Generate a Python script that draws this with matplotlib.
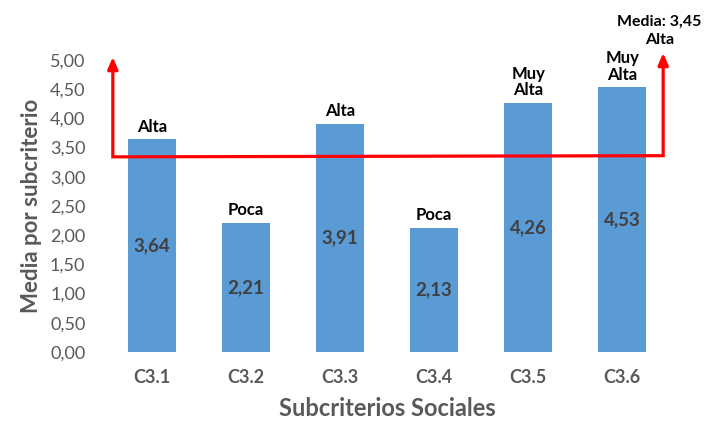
import matplotlib
matplotlib.use("Agg")
import matplotlib.pyplot as plt

# data
categories = ["C3.1", "C3.2", "C3.3", "C3.4", "C3.5", "C3.6"]
values = [3.64, 2.21, 3.91, 2.13, 4.26, 4.53]
levels = ["Alta", "Poca", "Alta", "Poca", "Muy\nAlta", "Muy\nAlta"]
value_labels = ["3,64", "2,21", "3,91", "2,13", "4,26", "4,53"]
yticks = [0, 0.5, 1, 1.5, 2, 2.5, 3, 3.5, 4, 4.5, 5]
ytick_labels = ["0,00", "0,50", "1,00", "1,50", "2,00", "2,50",
                "3,00", "3,50", "4,00", "4,50", "5,00"]
mean_text = "Media: 3,45\nAlta"

# red bracket (left arrow, horizontal, right arrow) in data units
bracket_x = [-0.415, 5.436]
bracket_y = [3.34, 3.36]
arrow_top = [5.05, 5.12]

plt.rcParams['font.family'] = ['Lato', 'DejaVu Sans']
gray = "#595959"

fig = plt.figure(figsize=(7.18, 4.25), dpi=100)
ax = fig.add_axes([0.146, 0.172, 0.786, 0.687])

x = list(range(len(categories)))
bars = ax.bar(x, values, width=0.51, color="#5B9BD5", zorder=2)

for xi, v, lab, lev in zip(x, values, value_labels, levels):
    ax.text(xi, v / 2, lab, ha="center", va="center", fontsize=13.5,
            fontweight="bold", color="#404040", zorder=4)
    ax.text(xi, v + 0.08, lev, ha="center", va="bottom", fontsize=12,
            fontweight="bold", color="black", linespacing=1.05)

# red line with arrows
red = "#FF0000"
ax.plot([bracket_x[0], bracket_x[0], bracket_x[1], bracket_x[1]],
        [arrow_top[0] - 0.15, bracket_y[0], bracket_y[1], arrow_top[1] - 0.15],
        color=red, lw=2.3, zorder=3, clip_on=False, solid_joinstyle="miter")
for bx, by, top in zip(bracket_x, bracket_y, arrow_top):
    ax.annotate("", xy=(bx, top), xytext=(bx, top - 0.2),
                arrowprops=dict(arrowstyle="-|>,head_length=0.7,head_width=0.3",
                                color=red, lw=2.3, shrinkA=0, shrinkB=0),
                annotation_clip=False, zorder=3)

ax.text(bracket_x[1] - 0.04, 5.5, mean_text, ha="center", va="center",
        fontsize=11.5, fontweight="bold", color="black", linespacing=1.4,
        clip_on=False)

ax.set_xlim(-0.5, len(categories) - 0.5)
ax.set_ylim(0, 5)
ax.set_yticks(yticks)
ax.set_yticklabels(ytick_labels, fontsize=13, color=gray)
ax.set_xticks(x)
ax.set_xticklabels(categories, fontsize=13, fontweight="bold", color=gray)
ax.tick_params(length=0, axis="y", pad=14)
ax.tick_params(length=0, axis="x", pad=12)
for s in ax.spines.values():
    s.set_visible(False)

ax.set_xlabel("Subcriterios Sociales", fontsize=17, fontweight="bold",
              color=gray, labelpad=8)
ax.set_ylabel("Media por subcriterio", fontsize=16, fontweight="bold",
              color=gray, labelpad=6)

fig.savefig("out.png", dpi=100)
